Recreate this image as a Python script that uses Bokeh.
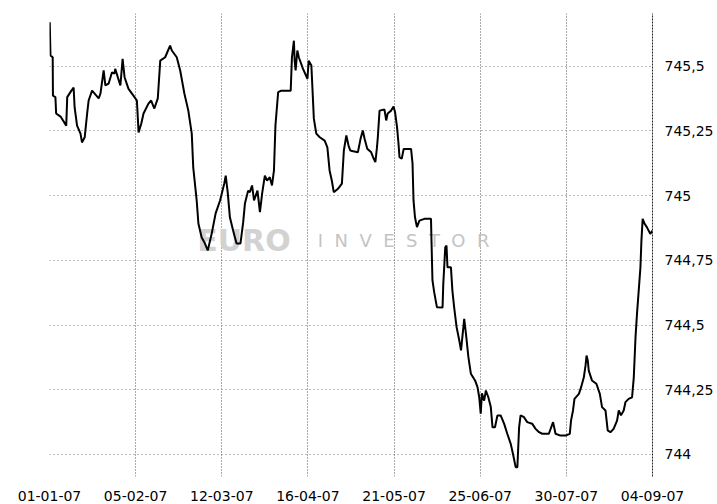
from bokeh.plotting import figure
from bokeh.models import FixedTicker, Range1d, Label
from bokeh.embed import file_html
from bokeh.resources import INLINE

# day offsets since 01-01-07
days = [0.1, 0.4, 1.3, 1.4, 2.4, 2.7, 4.5, 6.8, 7.2, 8.9, 9.8, 10.2, 11.2, 12.6, 13.2, 14.3, 15.3, 15.9, 17.3, 20.0,
        20.7, 22.0, 22.7, 24.0, 25.4, 26.4, 26.7, 28.8, 29.7, 30.5, 32.1, 34.1, 35.5, 36.2, 37.3, 38.2, 40.2,
        41.3, 42.6, 44.0, 45.0, 47.0, 49.0, 49.7, 51.7, 53.1, 54.8, 56.4, 57.8, 58.4, 59.8, 60.5, 61.8, 62.9, 64.3,
        65.9, 67.5, 69.3, 71.0, 71.6, 72.4, 73.3, 74.6, 76.0, 77.6, 78.7, 79.4, 80.7,
        81.4, 82.3, 83.1, 84.5, 85.5, 86.4, 87.5, 88.4, 89.5, 90.4, 91.2, 91.8, 92.9, 94.2, 98.0, 98.5, 99.3, 99.6,
        100.0, 100.7, 101.3, 103.0, 104.8, 105.3, 106.4, 107.0, 107.4, 108.4, 109.8, 111.8, 112.9, 113.8, 114.7,
        115.5, 117.2, 118.8, 119.6, 120.6, 121.5,
        122.2, 123.4, 125.3, 126.4, 127.3, 128.0, 129.1, 130.7, 131.7, 132.4, 133.0, 133.4, 134.1, 136.1, 136.8,
        137.4, 138.8, 139.8, 140.4, 141.2, 141.8, 142.2, 143.1, 143.9, 146.9, 147.5, 147.9, 148.5, 149.3, 150.3,
        152.3, 155.0, 155.2, 155.6, 156.3, 157.4, 159.7, 160.0, 160.8, 161.3,
        161.7, 163.1, 163.7, 164.4, 165.4, 166.5, 167.2, 168.5, 169.2, 170.2, 171.2, 172.9, 173.9, 174.6, 175.2,
        175.7, 176.6, 177.3, 178.3, 179.3, 180.0, 181.0, 182.0, 183.3, 184.7, 186.0, 187.4, 188.3, 189.4, 190.1,
        190.8, 191.4, 192.8, 194.1, 196.1, 197.5, 198.9, 200.2, 202.2,
        202.9, 204.6, 205.6, 207.6, 209.7, 211.4, 211.9, 212.7, 213.3, 215.1, 216.0, 217.1, 217.8, 218.2, 218.7,
        219.1, 220.4, 222.2, 223.6, 224.5, 225.9, 226.8, 227.9, 229.2, 230.6, 231.3, 232.2, 233.3, 234.0, 235.3,
        236.7, 237.4, 238.1, 238.7, 239.4, 240.1, 240.5, 241.0, 241.8, 242.7, 244.1, 245.0]

values = [745.669, 745.541, 745.534, 745.386, 745.380, 745.317, 745.305, 745.270, 745.380, 745.405, 745.417, 745.341,
          745.270, 745.239, 745.205, 745.225, 745.317, 745.367, 745.405, 745.375, 745.394, 745.483, 745.425, 745.432,
          745.476, 745.471, 745.489, 745.425, 745.528, 745.457, 745.412, 745.386, 745.367, 745.244, 745.278, 745.317,
          745.355,
          745.367, 745.336, 745.375, 745.521, 745.534, 745.579, 745.560, 745.534, 745.483, 745.394, 745.328, 745.239,
          745.109, 744.981, 744.892, 744.839, 744.820, 744.788, 744.853, 744.931, 744.981, 745.046, 745.077, 745.013,
          744.916, 744.865, 744.815, 744.815, 744.897, 744.969, 745.019,
          745.013, 745.039, 744.981, 745.019, 744.936, 745.008, 745.077, 745.058, 745.071, 745.039, 745.097, 745.270,
          745.399, 745.405, 745.405, 745.534, 745.598, 745.521, 745.483, 745.560, 745.534, 745.489, 745.451, 745.521,
          745.502, 745.380, 745.297, 745.239, 745.225, 745.212, 745.186, 745.097, 745.058, 745.013, 745.026, 745.046,
          745.174, 745.232, 745.193,
          745.174, 745.171, 745.167, 745.220, 745.251, 745.220, 745.181, 745.167, 745.143, 745.129, 745.181, 745.225,
          745.328, 745.332, 745.290, 745.317, 745.328, 745.344, 745.322, 745.264, 745.201, 745.148, 745.142, 745.180,
          745.180, 745.124, 744.981, 744.916, 744.878, 744.903, 744.910, 744.910, 744.826, 744.672, 744.627, 744.569,
          744.568, 744.660, 744.800, 744.807,
          744.723, 744.723, 744.633, 744.569, 744.492, 744.440, 744.402, 744.524, 744.467, 744.376, 744.312, 744.286,
          744.260, 744.221, 744.158, 744.236, 744.208, 744.247, 744.221, 744.183, 744.105, 744.105, 744.151, 744.151,
          744.119, 744.080, 744.041, 744.003, 743.951, 743.951, 744.105, 744.151, 744.144, 744.125, 744.119, 744.099,
          744.086, 744.080, 744.080,
          744.080, 744.125, 744.080, 744.073, 744.073, 744.080, 744.131, 744.170, 744.215, 744.234, 744.260, 744.298,
          744.344, 744.382, 744.363, 744.324, 744.286, 744.273, 744.234, 744.183, 744.170, 744.093, 744.086, 744.099,
          744.131, 744.170, 744.151, 744.170, 744.202, 744.215, 744.221, 744.298, 744.453, 744.543, 744.633, 744.723,
          744.826, 744.910, 744.891, 744.878, 744.852, 744.865]

x_tick_days = [0, 35, 70, 105, 140, 175, 210, 245]
x_tick_labels = ["01-01-07", "05-02-07", "12-03-07", "16-04-07", "21-05-07", "25-06-07", "30-07-07", "04-09-07"]
y_ticks = [744, 744.25, 744.5, 744.75, 745, 745.25, 745.5]
y_tick_labels = ["744", "744,25", "744,5", "744,75", "745", "745,25", "745,5"]

p = figure(width=716, height=503, output_backend="svg", toolbar_location=None,
           x_range=Range1d(0, 245), y_range=Range1d(743.915, 745.703),
           y_axis_location="right",
           min_border_left=49, min_border_right=62, min_border_top=13, min_border_bottom=27)
p.outline_line_color = None
p.background_fill_color = "white"
p.border_fill_color = "white"

# watermark
p.add_layout(Label(x=60, y=744.826, text="EURO", text_font="DejaVu Sans", text_font_style="bold",
                   text_font_size="30px", text_color="#d2d2d2", text_baseline="middle", level="underlay"))
p.add_layout(Label(x=109, y=744.826, text=" \u00a0".join("INVESTOR"), text_font="DejaVu Sans",
                   text_font_size="18px", text_color="#c4c4c4", text_baseline="middle", level="underlay"))

p.line(days, values, line_color="black", line_width=2)

xa = p.xaxis[0]
xa.ticker = FixedTicker(ticks=x_tick_days)
xa.major_label_overrides = {d: l for d, l in zip(x_tick_days, x_tick_labels)}
xa.axis_line_color = None
xa.major_tick_line_color = None
xa.minor_tick_line_color = None
xa.major_label_standoff = 8
xa.major_label_text_font = "DejaVu Sans"
xa.major_label_text_font_size = "14px"
xa.major_label_text_color = "black"

ya = p.yaxis[0]
ya.ticker = FixedTicker(ticks=y_ticks)
ya.major_label_overrides = {t: l for t, l in zip(y_ticks, y_tick_labels)}
ya.axis_line_color = "#222222"
ya.axis_line_dash = "2 1"
ya.major_tick_line_color = None
ya.minor_tick_line_color = None
ya.major_label_standoff = 6
ya.major_label_text_font = "DejaVu Sans"
ya.major_label_text_font_size = "14px"
ya.major_label_text_color = "black"

p.xgrid.grid_line_color = "#555555"
p.xgrid.grid_line_dash = "1 2"
p.ygrid.grid_line_color = "#777777"
p.ygrid.grid_line_dash = "1 3"

open("out.html", "w").write(file_html(p, INLINE))
